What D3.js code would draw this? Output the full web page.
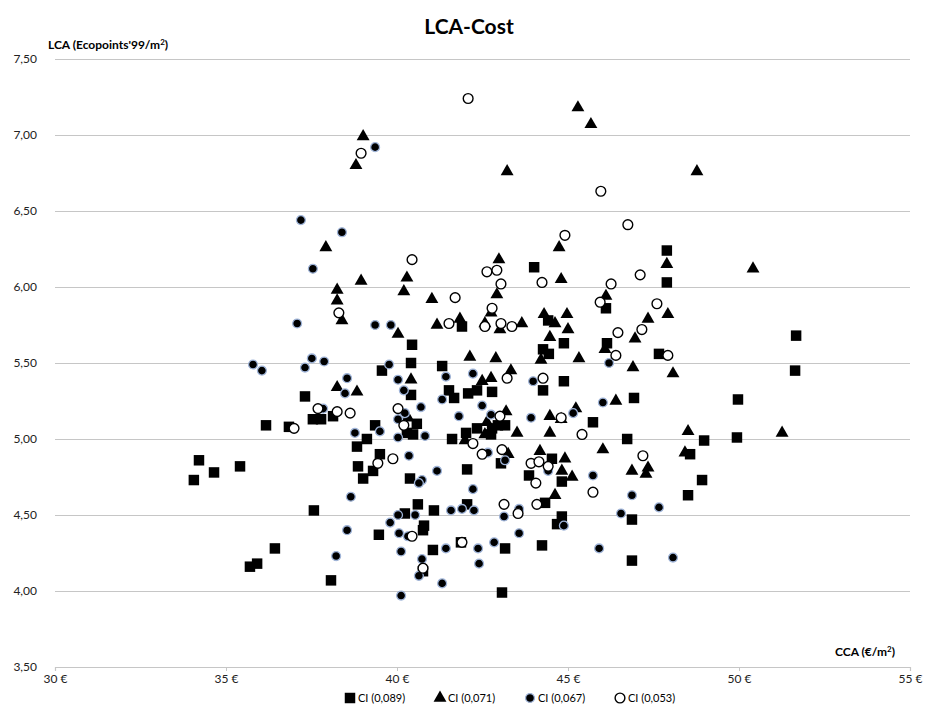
<!DOCTYPE html>
<html lang="en">
<head>
<meta charset="utf-8">
<title>LCA-Cost</title>
<script src="https://d3js.org/d3.v7.min.js"></script>
<style>
  body { margin: 0; background: #fff; }
  text { font-family: Lato, "Open Sans", sans-serif; }
</style>
</head>
<body>
<script>
// CCA (€/m²), LCA (Ecopoints'99/m²) per series
var ci089 = [[34.21,4.86],[34.65,4.78],[34.06,4.73],[35.41,4.82],[37.57,4.53],[36.43,4.28],[35.70,4.16],[35.91,4.18],[38.07,4.07],[37.31,5.28],[36.17,5.09],[36.84,5.08],[37.54,5.13],[37.78,5.13],[38.13,5.15],[41.90,5.74],[40.44,5.62],[40.41,5.50],[41.32,5.48],[39.56,5.45],[40.41,5.29],[41.52,5.32],[41.67,5.27],[42.08,5.30],[42.34,5.32],[42.78,5.31],[40.58,5.10],[39.36,5.09],[40.29,5.04],[40.47,5.03],[39.12,5.00],[38.83,4.95],[41.61,5.00],[42.02,5.04],[42.34,5.07],[42.78,5.07],[42.75,5.03],[42.95,5.09],[39.50,4.90],[38.86,4.82],[39.30,4.79],[39.01,4.74],[40.38,4.74],[42.05,4.80],[43.04,4.84],[40.61,4.57],[40.23,4.51],[41.08,4.53],[42.05,4.57],[40.79,4.43],[40.76,4.40],[39.47,4.37],[41.05,4.27],[41.87,4.32],[43.16,4.28],[40.76,4.13],[43.07,3.99],[44.01,6.13],[47.89,6.24],[47.89,6.03],[46.11,5.86],[44.42,5.78],[44.88,5.63],[46.14,5.63],[44.27,5.59],[44.44,5.56],[47.66,5.56],[44.88,5.38],[44.27,5.32],[46.93,5.27],[43.16,5.09],[45.73,5.11],[46.73,5.00],[44.53,4.87],[44.82,4.72],[43.86,4.76],[44.33,4.58],[44.82,4.49],[44.68,4.44],[46.87,4.47],[44.24,4.30],[46.87,4.20],[51.67,5.68],[51.64,5.45],[49.97,5.26],[48.98,4.99],[49.94,5.01],[48.57,4.90],[48.92,4.73],[48.51,4.63]];

var ci071 = [[37.92,6.26],[38.25,5.98],[38.25,5.91],[38.39,5.78],[39.01,6.99],[38.80,6.80],[43.22,6.76],[40.29,6.06],[38.95,6.04],[42.98,6.18],[45.29,7.18],[45.67,7.07],[44.74,6.26],[44.80,6.05],[47.89,6.15],[48.77,6.76],[50.41,6.12],[38.25,5.34],[40.20,5.97],[41.02,5.92],[42.92,5.95],[42.75,5.83],[40.03,5.69],[41.17,5.75],[41.84,5.79],[42.57,5.76],[43.01,5.72],[42.13,5.54],[42.89,5.53],[40.41,5.39],[42.49,5.38],[42.75,5.40],[38.83,5.31],[43.19,5.18],[40.32,5.14],[42.63,5.11],[42.57,5.03],[41.99,4.99],[46.11,5.94],[44.30,5.82],[44.62,5.76],[44.97,5.82],[43.65,5.76],[45.00,5.72],[44.47,5.67],[47.34,5.79],[46.96,5.66],[46.08,5.59],[44.21,5.52],[45.32,5.53],[46.90,5.47],[43.33,5.45],[46.40,5.25],[44.47,5.15],[44.80,5.13],[45.23,5.20],[43.51,5.04],[44.47,5.04],[46.02,4.93],[44.18,4.92],[43.25,4.90],[44.91,4.87],[47.92,5.82],[48.07,5.43],[48.51,5.05],[51.26,5.04],[48.42,4.91],[44.82,4.79],[45.12,4.75],[46.87,4.79],[47.34,4.81],[47.28,4.77],[44.62,4.63]];

var ci067 = [[37.19,6.44],[38.39,6.36],[37.54,6.12],[39.36,6.92],[37.08,5.76],[35.79,5.49],[36.05,5.45],[37.51,5.53],[37.31,5.47],[37.87,5.51],[38.54,5.40],[38.48,5.30],[37.84,5.20],[39.36,5.75],[39.82,5.75],[39.77,5.49],[40.03,5.39],[41.43,5.41],[42.22,5.43],[40.20,5.32],[41.32,5.26],[40.70,5.21],[40.23,5.17],[42.49,5.22],[41.81,5.15],[42.75,5.16],[40.03,5.13],[39.50,5.05],[40.82,5.02],[40.03,5.01],[38.77,5.04],[42.66,4.91],[40.35,4.89],[40.73,4.73],[40.64,4.71],[41.17,4.79],[42.22,4.67],[38.65,4.62],[40.03,4.50],[40.53,4.50],[41.58,4.53],[41.90,4.54],[42.25,4.53],[43.13,4.49],[39.80,4.45],[38.54,4.40],[40.06,4.38],[40.32,4.36],[40.12,4.26],[41.43,4.28],[42.37,4.28],[42.84,4.32],[42.40,4.18],[40.73,4.21],[40.64,4.10],[41.32,4.05],[40.12,3.97],[38.22,4.23],[44.42,4.79],[45.73,4.76],[43.16,4.86],[46.87,4.63],[47.66,4.55],[43.57,4.54],[46.55,4.51],[44.88,4.43],[43.57,4.38],[45.91,4.28],[48.07,4.22],[46.20,5.50],[43.98,5.38],[46.02,5.24],[43.92,5.14],[45.15,5.17]];

var ci053 = [[42.08,7.24],[38.95,6.88],[40.44,6.18],[42.63,6.10],[42.92,6.11],[43.04,6.02],[45.96,6.63],[46.75,6.41],[44.91,6.34],[44.24,6.03],[46.26,6.02],[47.11,6.08],[38.30,5.83],[41.70,5.93],[42.78,5.86],[41.52,5.76],[42.57,5.74],[43.04,5.76],[37.69,5.20],[38.25,5.18],[38.63,5.17],[36.99,5.07],[40.03,5.20],[40.20,5.09],[43.22,5.40],[43.01,5.15],[42.22,4.97],[43.07,4.93],[42.49,4.90],[39.88,4.87],[39.44,4.84],[43.13,4.57],[40.44,4.36],[41.90,4.32],[40.76,4.15],[45.94,5.90],[47.60,5.89],[43.36,5.74],[46.46,5.70],[47.16,5.72],[46.40,5.55],[47.92,5.55],[44.27,5.40],[44.80,5.14],[45.41,5.03],[47.19,4.89],[43.92,4.84],[44.15,4.85],[44.42,4.82],[44.06,4.71],[45.73,4.65],[44.09,4.57],[43.54,4.51]];

var xTicks = [30, 35, 40, 45, 50, 55];
var yTicks = [3.5, 4, 4.5, 5, 5.5, 6, 6.5, 7, 7.5];
var seriesNames = ["CI (0,089)", "CI (0,071)", "CI (0,067)", "CI (0,053)"];

var w = 927, h = 722;
var mLeft = 55, mRight = 910, mTop = 59, mBottom = 667;

var svg = d3.select("body").append("svg")
  .attr("width", w)
  .attr("height", h);

var x = d3.scaleLinear().domain([30, 55]).range([mLeft, mRight]);
var y = d3.scaleLinear().domain([3.5, 7.5]).range([mBottom, mTop]);

var comma = function(v) { return d3.format(".2f")(v).replace(".", ","); };

// gridlines + y labels
svg.append("g")
  .attr("transform", "translate(" + mLeft + ",0)")
  .call(d3.axisLeft(y).tickValues(yTicks).tickSize(-(mRight - mLeft)).tickPadding(18).tickFormat(comma))
  .call(function(g) {
    g.select(".domain").remove();
    g.selectAll(".tick line").attr("stroke", "#c6c6c6").attr("stroke-width", 1.2);
    g.selectAll(".tick text").attr("font-size", 12).attr("fill", "#222");
  });

// x axis
svg.append("g")
  .attr("transform", "translate(0," + mBottom + ")")
  .call(d3.axisBottom(x).tickValues(xTicks).tickSize(4).tickPadding(3).tickFormat(function(d) { return d + " €"; }))
  .call(function(g) {
    g.select(".domain").attr("stroke", "#c6c6c6").attr("stroke-width", 1.2);
    g.selectAll(".tick line").attr("stroke", "#c6c6c6");
    g.selectAll(".tick text").attr("font-size", 12).attr("fill", "#222");
  });

var shapes = [
  { data: ci089, type: d3.symbolSquare, size: 110, fill: "#000", stroke: "none", sw: 0 },
  { data: ci071, type: d3.symbolTriangle, size: 72, fill: "#000", stroke: "none", sw: 0 },
  { data: ci067, type: d3.symbolCircle, size: 62, fill: "#000", stroke: "#9fb4d8", sw: 1.3 },
  { data: ci053, type: d3.symbolCircle, size: 75, fill: "#fff", stroke: "#000", sw: 1.4 }
];

shapes.forEach(function(s) {
  svg.append("g").selectAll("path")
    .data(s.data)
    .enter()
    .append("path")
    .attr("d", d3.symbol().type(s.type).size(s.size))
    .attr("transform", function(d) { return "translate(" + x(d[0]) + "," + y(d[1]) + ")"; })
    .attr("fill", s.fill)
    .attr("stroke", s.stroke)
    .attr("stroke-width", s.sw);
});

// title and axis titles
svg.append("text")
  .attr("x", 469).attr("y", 34)
  .attr("text-anchor", "middle")
  .attr("font-size", 21).attr("font-weight", "bold")
  .text("LCA-Cost");

var yt = svg.append("text")
  .attr("x", 48).attr("y", 49)
  .attr("font-size", 12).attr("font-weight", "bold");
yt.append("tspan").text("LCA (Ecopoints'99/m");
yt.append("tspan").attr("dy", -4).attr("font-size", 8).text("2");
yt.append("tspan").attr("dy", 4).text(")");

var xt = svg.append("text")
  .attr("x", 895).attr("y", 656)
  .attr("text-anchor", "end")
  .attr("font-size", 12).attr("font-weight", "bold");
xt.append("tspan").text("CCA (€/m");
xt.append("tspan").attr("dy", -4).attr("font-size", 8).text("2");
xt.append("tspan").attr("dy", 4).text(")");

// legend
var legendX = [350, 440, 530, 620];
var lg = svg.append("g").attr("transform", "translate(0,698)");
shapes.forEach(function(s, i) {
  var item = lg.append("g").attr("transform", "translate(" + legendX[i] + ",0)");
  item.append("path")
    .attr("d", d3.symbol().type(s.type).size(s.size))
    .attr("fill", s.fill)
    .attr("stroke", s.stroke)
    .attr("stroke-width", s.sw);
  item.append("text")
    .attr("x", 8).attr("y", 4)
    .attr("font-size", 11)
    .text(seriesNames[i]);
});
</script>
</body>
</html>
